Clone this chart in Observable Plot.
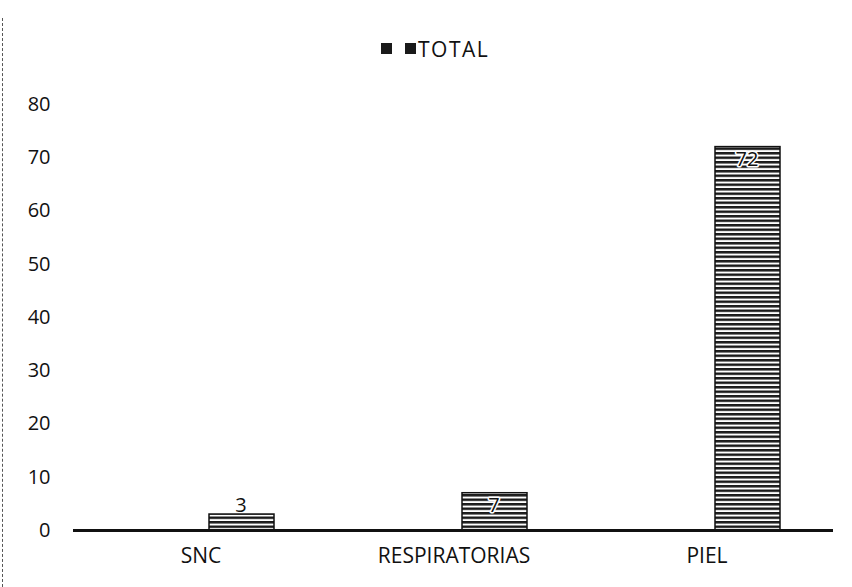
<!DOCTYPE html>
<html>
<head>
<meta charset="utf-8">
<script src="https://cdn.jsdelivr.net/npm/d3@7"></script>
<script src="https://cdn.jsdelivr.net/npm/@observablehq/plot@0.6"></script>
<style>
  html, body { margin: 0; padding: 0; background: #fff; }
  body { width: 852px; height: 587px; overflow: hidden; font-family: "Open Sans", sans-serif; position: relative; }
  #frame { position: absolute; left: 2px; top: 18px; bottom: 0; border-left: 1px dashed #555; }
  #legend { height: 80px; position: relative; }
  #legend .sq { position: absolute; top: 43px; width: 11px; height: 11px; background: #1a1a1a; }
  #legend .lab { position: absolute; left: 418px; top: 35px; font-size: 21px; letter-spacing: 1.5px; color: #111; line-height: 28px; }
  #chart svg g[aria-label="x-axis tick label"] text { font-size: 21px; }
</style>
</head>
<body>
<div id="frame"></div>
<div id="legend">
  <div class="sq" style="left:381px"></div>
  <div class="sq" style="left:405px"></div>
  <div class="lab" id="seriesName"></div>
</div>
<div id="chart"></div>
<script>
const categories = ["SNC", "RESPIRATORIAS", "PIEL"];
const totals = [3, 7, 72];
const seriesName = "TOTAL";
const yTicks = [0, 10, 20, 30, 40, 50, 60, 70, 80];

document.getElementById("seriesName").textContent = seriesName;

const data = categories.map((c, i) => ({category: c, value: totals[i]}));

const chart = Plot.plot({
  width: 852,
  height: 507,
  marginLeft: 73,
  marginRight: 19,
  marginTop: 24,
  marginBottom: 57,
  style: {fontFamily: "Open Sans, sans-serif", fontSize: "20px", color: "#111", background: "#fff"},
  x: {domain: categories, padding: 0, label: null, tickSize: 0, tickPadding: 18},
  y: {domain: [0, 80], ticks: yTicks, label: null, tickSize: 0, tickPadding: 23},
  marks: [
    Plot.barY(data, {x: "category", y: "value", fill: "url(#hstripes)", stroke: "#111", strokeWidth: 1.5, insetLeft: 135, insetRight: 53}),
    Plot.ruleY([0], {stroke: "#111", strokeWidth: 3}),
    Plot.text(data.filter(d => d.value >= 5), {x: "category", y: "value", text: d => String(d.value), dx: 40, dy: 5, lineAnchor: "top", fontSize: 20, fill: "#111", stroke: "#fff", strokeWidth: 3, paintOrder: "stroke"}),
    Plot.text(data.filter(d => d.value < 5), {x: "category", y: "value", text: d => String(d.value), dx: 40, dy: -3, lineAnchor: "bottom", fontSize: 20, fill: "#111"})
  ]
});

const ns = "http://www.w3.org/2000/svg";
const defs = document.createElementNS(ns, "defs");
const pat = document.createElementNS(ns, "pattern");
pat.setAttribute("id", "hstripes");
pat.setAttribute("patternUnits", "userSpaceOnUse");
pat.setAttribute("width", "8");
pat.setAttribute("height", "4.5");
const bg = document.createElementNS(ns, "rect");
bg.setAttribute("width", "8"); bg.setAttribute("height", "4.5"); bg.setAttribute("fill", "#fff");
const ln = document.createElementNS(ns, "rect");
ln.setAttribute("width", "8"); ln.setAttribute("height", "2.5"); ln.setAttribute("fill", "#1a1a1a");
pat.appendChild(bg); pat.appendChild(ln);
defs.appendChild(pat);
chart.insertBefore(defs, chart.firstChild);

document.getElementById("chart").appendChild(chart);
</script>
</body>
</html>
